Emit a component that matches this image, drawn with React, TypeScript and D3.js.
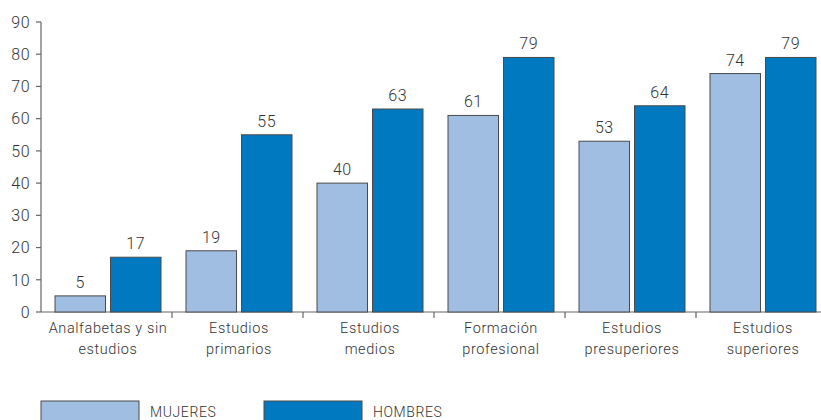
import React from "react";
import * as d3 from "d3";

const categories = [
  ["Analfabetas y sin", "estudios"],
  ["Estudios", "primarios"],
  ["Estudios", "medios"],
  ["Formación", "profesional"],
  ["Estudios", "presuperiores"],
  ["Estudios", "superiores"],
];
const mujeres = [5, 19, 40, 61, 53, 74];
const hombres = [17, 55, 63, 79, 64, 79];
const yTicks = [0, 10, 20, 30, 40, 50, 60, 70, 80, 90];
const seriesNames = ["MUJERES", "HOMBRES"];
const colors = ["#A0BDE2", "#0079C1"];

const W = 821;
const H = 420;
const left = 41;
const groupW = 131;
const y0 = 312;
const yTop = 22;

export default function App() {
  const y = d3.scaleLinear().domain([0, 90]).range([y0, yTop]);
  const x = d3
    .scaleBand<number>()
    .domain(categories.map((_, i) => i))
    .range([left, left + groupW * categories.length])
    .padding(0);
  const inner = d3
    .scaleBand<number>()
    .domain([0, 1])
    .range([14, 120])
    .paddingInner(0.09);
  const series = [mujeres, hombres];
  const font = "Roboto, 'DejaVu Sans', sans-serif";
  return (
    <svg
      width={W}
      height={H}
      style={{ position: "absolute", left: 0, top: 0, background: "#fff" }}
      fontFamily={font}
      fontWeight={300}
    >
      {/* y axis */}
      <line x1={left} x2={left} y1={yTop} y2={y0} stroke="#666" strokeWidth={1.2} />
      {yTicks.map((t) => (
        <g key={t}>
          <line x1={left - 5} x2={left} y1={y(t)} y2={y(t)} stroke="#666" strokeWidth={1.2} />
          <text
            x={30}
            y={y(t)}
            dy="0.36em"
            textAnchor="end"
            fontSize={16}
            letterSpacing={0.5}
            fill="#333"
          >
            {t}
          </text>
        </g>
      ))}
      {/* x axis */}
      <line x1={left} x2={W} y1={y0} y2={y0} stroke="#666" strokeWidth={1.2} />
      {categories.map((_, i) =>
        i > 0 ? (
          <line
            key={"t" + i}
            x1={x(i)!}
            x2={x(i)!}
            y1={y0}
            y2={y0 + 6}
            stroke="#666"
            strokeWidth={1.2}
          />
        ) : null
      )}
      {/* bars */}
      {categories.map((cat, i) => (
        <g key={i}>
          {series.map((s, k) => {
            const bx = x(i)! + inner(k)!;
            const bw = inner.bandwidth();
            return (
              <g key={k}>
                <rect
                  x={bx}
                  y={y(s[i])}
                  width={bw}
                  height={y0 - y(s[i])}
                  fill={colors[k]}
                  stroke="#4a4a4a"
                  strokeWidth={1}
                />
                <text
                  x={bx + bw / 2}
                  y={y(s[i]) - 8}
                  textAnchor="middle"
                  fontSize={16}
                  letterSpacing={0.5}
                  fill="#333"
                >
                  {s[i]}
                </text>
              </g>
            );
          })}
          {cat.map((line, j) => (
            <text
              key={j}
              x={x(i)! + 67}
              y={333 + j * 21}
              textAnchor="middle"
              fontSize={14.5}
              letterSpacing={0.6}
              fill="#333"
            >
              {line}
            </text>
          ))}
        </g>
      ))}
      {/* legend */}
      {seriesNames.map((n, k) => (
        <g key={n} transform={`translate(${41 + k * 223},401)`}>
          <rect x={0} y={0} width={98} height={22} fill={colors[k]} stroke="#4a4a4a" strokeWidth={1} />
          <text x={109} y={15.5} fontSize={14} letterSpacing={0.6} fill="#333">
            {n}
          </text>
        </g>
      ))}
    </svg>
  );
}
